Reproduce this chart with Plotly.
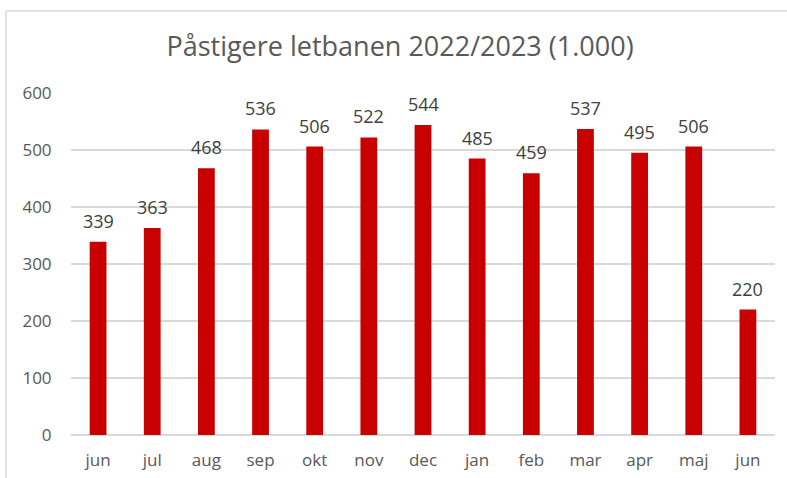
import plotly.graph_objects as go

months = ["jun", "jul", "aug", "sep", "okt", "nov", "dec", "jan", "feb", "mar", "apr", "maj", "jun"]
passengers = [339, 363, 468, 536, 506, 522, 544, 485, 459, 537, 495, 506, 220]
y_ticks = [0, 100, 200, 300, 400, 500, 600]
title_text = "Påstigere letbanen 2022/2023 (1.000)"

W, H = 787, 478
ml, mr, mt, mb = 71, 12, 93, 43
pw, ph = W - ml - mr, H - mt - mb

positions = list(range(len(months)))

fig = go.Figure(go.Bar(
    x=positions,
    y=passengers,
    marker=dict(color="#C90000", line=dict(width=0)),
    width=0.31,
))

for xp, v in zip(positions, passengers):
    fig.add_annotation(x=xp, y=v, text=str(v), showarrow=False,
                       xanchor="center", yanchor="bottom", yshift=7,
                       font=dict(family="Open Sans", size=18, color="#404040"))

fig.update_layout(
    width=W, height=H,
    margin=dict(l=ml, r=mr, t=mt, b=mb, pad=0, autoexpand=False),
    paper_bgcolor="white", plot_bgcolor="white",
    title=dict(text=title_text, x=400 / W, xanchor="center", y=1 - 47 / H, yanchor="middle",
               font=dict(family="Open Sans", size=27, color="#595959")),
    showlegend=False,
)
fig.update_xaxes(
    tickmode="array", tickvals=positions, ticktext=months,
    range=[-0.5, len(months) - 0.5],
    showgrid=False, showline=False, zeroline=False, automargin=False,
    ticks="outside", ticklen=10, tickcolor="rgba(0,0,0,0)",
    tickfont=dict(family="Open Sans", size=17, color="#595959"),
)
fig.update_yaxes(
    range=[0, 600], tickvals=y_ticks, automargin=False,
    showgrid=True, gridcolor="#D9D9D9", gridwidth=1.5,
    zeroline=True, zerolinecolor="#D9D9D9", zerolinewidth=1.5,
    showline=False,
    ticks="outside", ticklen=15, tickcolor="rgba(0,0,0,0)",
    tickfont=dict(family="Open Sans", size=17, color="#595959"),
)

def px_to_paper_x(px):
    return (px - ml) / pw

def px_to_paper_y(py):
    return (H - mb - py) / ph

fig.add_shape(type="line", xref="paper", yref="paper",
              x0=px_to_paper_x(6), x1=px_to_paper_x(W), y0=px_to_paper_y(11), y1=px_to_paper_y(11),
              line=dict(color="#D9D9D9", width=1.5))
fig.add_shape(type="line", xref="paper", yref="paper",
              x0=px_to_paper_x(6), x1=px_to_paper_x(6), y0=px_to_paper_y(11), y1=px_to_paper_y(H),
              line=dict(color="#D9D9D9", width=1.5))

fig.write_html("out.html", config={"displayModeBar": False},
               post_script="document.body.style.margin='0';document.body.style.overflow='hidden';")
